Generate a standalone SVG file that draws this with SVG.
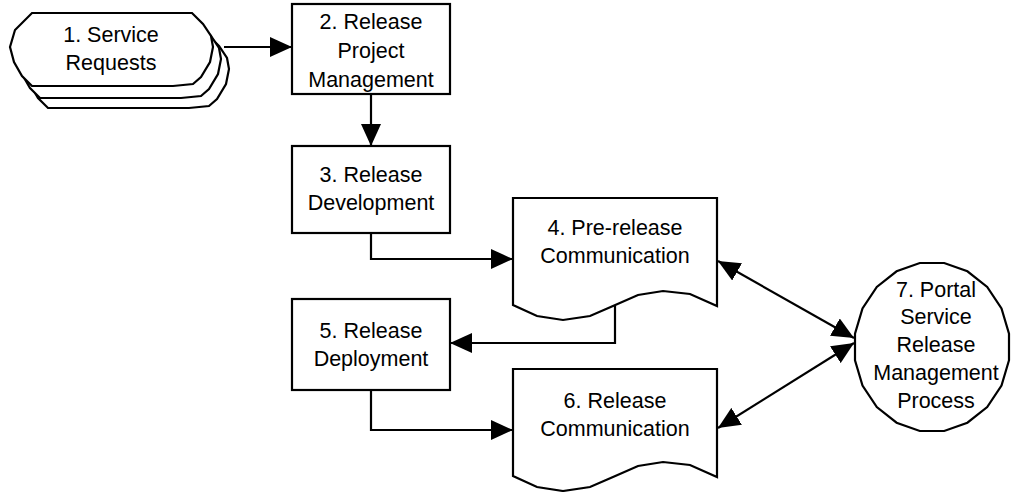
<svg xmlns="http://www.w3.org/2000/svg" width="1015" height="492" viewBox="0 0 1015 492">
<defs>
<style>
.s{fill:#fff;stroke:#000;stroke-width:2.2;stroke-linejoin:miter}
.c{fill:none;stroke:#000;stroke-width:2.2}
text{font-family:"Liberation Sans",Arial,sans-serif;font-size:21.5px;fill:#000;text-anchor:middle}
</style>
<marker id="ah" viewBox="0 0 22 20" refX="22" refY="10" markerWidth="22" markerHeight="20" markerUnits="userSpaceOnUse" orient="auto-start-reverse">
<path d="M0,0 L22,10 L0,20 Z" fill="#000"/>
</marker>
<polygon id="req" points="32,13 192,13 203,24 211,36 213,47 210,62 201,77 193,84 173,86 32,86 22,76 14,62 10,47 15,30"/>
</defs>
<rect width="1015" height="492" fill="#fff"/>
<g id="connectors">
<path class="c" d="M224,47 H292" marker-end="url(#ah)"/>
<path class="c" d="M371,94 V146" marker-end="url(#ah)"/>
<path class="c" d="M371,233 V259 H513" marker-end="url(#ah)"/>
<path class="c" d="M615,306 V343 H450" marker-end="url(#ah)"/>
<path class="c" d="M371,390 V430 H513" marker-end="url(#ah)"/>
<path class="c" d="M718,261 L854,338" marker-start="url(#ah)" marker-end="url(#ah)"/>
<path class="c" d="M718,428 L854,343" marker-start="url(#ah)" marker-end="url(#ah)"/>
</g>
<g id="n1">
<use href="#req" class="s" transform="translate(16,22)"/>
<use href="#req" class="s" transform="translate(8,12)"/>
<use href="#req" class="s"/>
<text x="111" y="42">1. Service</text>
<text x="111" y="70">Requests</text>
</g>
<g id="n2">
<rect class="s" x="292" y="4" width="158" height="90"/>
<text x="371" y="29">2. Release</text>
<text x="371" y="58">Project</text>
<text x="371" y="87">Management</text>
</g>
<g id="n3">
<rect class="s" x="292" y="146" width="158" height="87"/>
<text x="371" y="182">3. Release</text>
<text x="371" y="210">Development</text>
</g>
<g id="n4">
<path class="s" d="M513,198 H717 V306 L690,294 L663,291 L638,295 L613,306 L590,316 L563,320 L537,316 L513,305 Z"/>
<text x="615" y="235">4. Pre-release</text>
<text x="615" y="263">Communication</text>
</g>
<g id="n5">
<rect class="s" x="292" y="299" width="158" height="91"/>
<text x="371" y="338">5. Release</text>
<text x="371" y="366">Deployment</text>
</g>
<g id="n6">
<path class="s" d="M513,369 H717 V477 L690,465 L663,462 L638,466 L613,477 L590,487 L563,491 L537,487 L513,476 Z"/>
<text x="615" y="408">6. Release</text>
<text x="615" y="436">Communication</text>
</g>
<g id="n7">
<polygon class="s" points="1009,360.3 1001.5,385.6 987.2,407.1 967.4,422.7 944.2,431 919.8,431 896.6,422.7 876.8,407.1 862.5,385.6 855,360.3 855,333.7 862.5,308.4 876.8,286.9 896.6,271.3 919.8,263 944.2,263 967.4,271.3 987.2,286.9 1001.5,308.4 1009,333.7"/>
<text x="936" y="297">7. Portal</text>
<text x="936" y="324">Service</text>
<text x="936" y="352">Release</text>
<text x="936" y="380">Management</text>
<text x="936" y="408">Process</text>
</g>
</svg>
